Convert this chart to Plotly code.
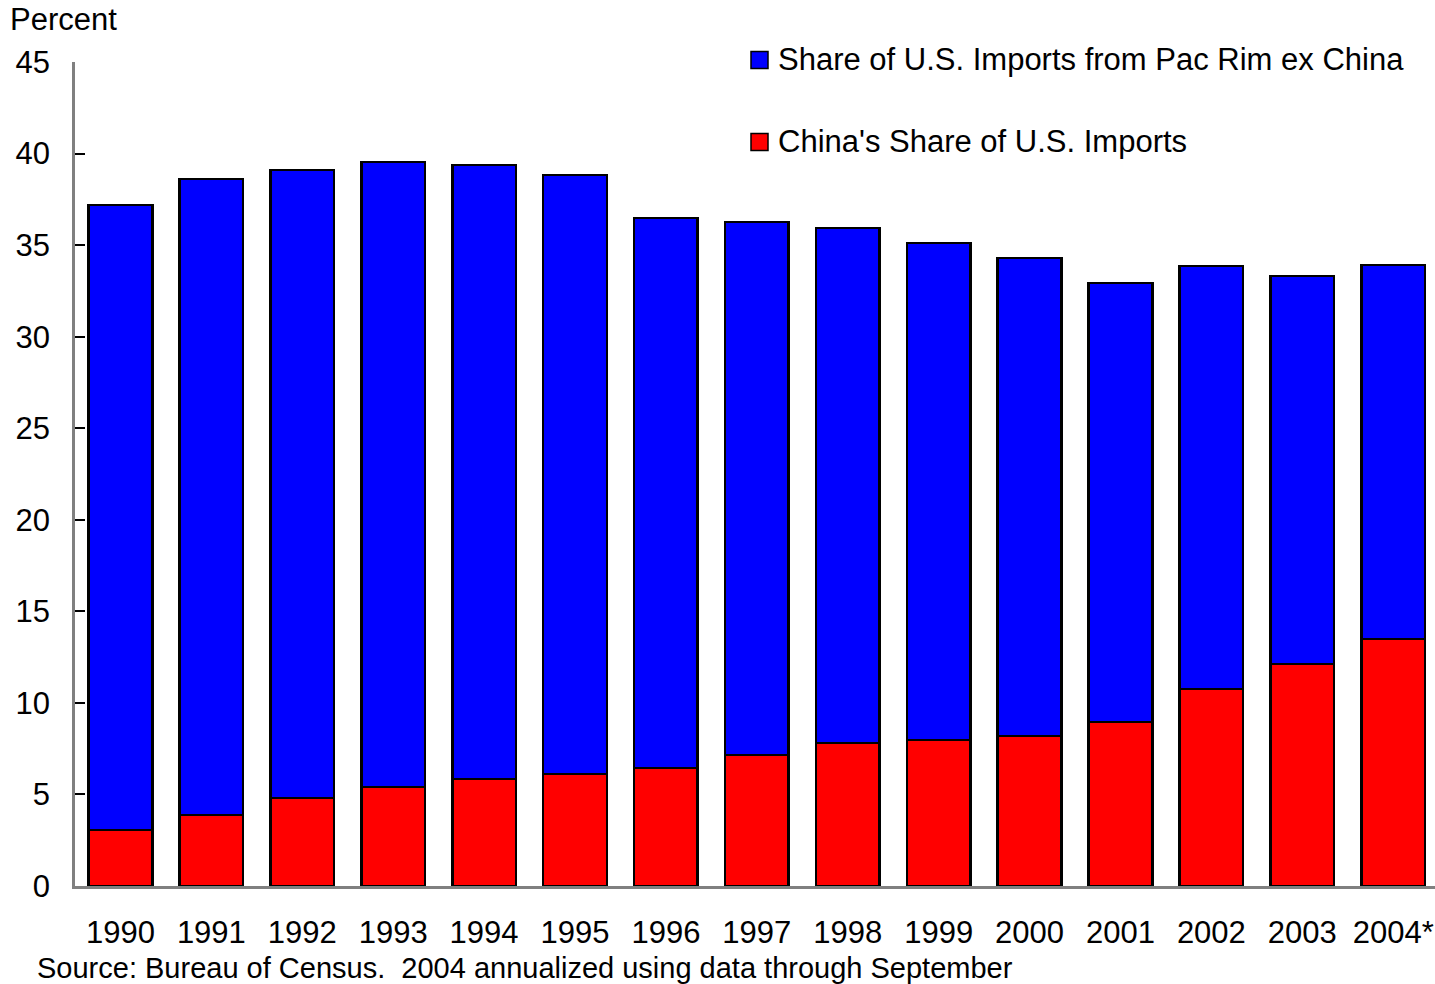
import plotly.graph_objects as go

years = ['1990', '1991', '1992', '1993', '1994', '1995', '1996', '1997',
         '1998', '1999', '2000', '2001', '2002', '2003', '2004*']
china = [3.06, 3.88, 4.81, 5.41, 5.84, 6.12, 6.44, 7.15,
         7.81, 7.97, 8.19, 8.96, 10.76, 12.12, 13.49]
total = [37.19, 38.61, 39.10, 39.54, 39.38, 38.83, 36.48, 36.26,
         35.94, 35.12, 34.30, 32.93, 33.86, 33.32, 33.92]
pacrim = [round(t - c, 2) for t, c in zip(total, china)]

font = 'Arial, Liberation Sans, sans-serif'

fig = go.Figure()
fig.add_trace(go.Bar(x=years, y=china, name="China's Share of U.S. Imports",
                     marker=dict(color='#ff0000', line=dict(color='black', width=2.5)),
                     showlegend=False))
fig.add_trace(go.Bar(x=years, y=pacrim, name='Share of U.S. Imports from Pac Rim ex China',
                     marker=dict(color='#0000ff', line=dict(color='black', width=2.5)),
                     showlegend=False))

fig.update_layout(
    barmode='stack', bargap=0.30,
    width=1435, height=984,
    margin=dict(l=75, r=0, t=62, b=98),
    plot_bgcolor='white', paper_bgcolor='white',
    font=dict(family=font, size=31, color='black'),
)
fig.update_xaxes(range=[-0.5, 14.46], showline=True, linecolor='#808080', linewidth=2.5,
                 ticks='', ticklabelstandoff=17, showgrid=False)
fig.update_yaxes(range=[0, 45], dtick=5, showline=True, linecolor='#808080', linewidth=2.5,
                 ticks='inside', ticklen=10, tickcolor='black', tickwidth=1.5,
                 ticklabelstandoff=16, showgrid=False, zeroline=False)

# legend drawn by hand so the swatches match the original size
legend = [('#0000ff', 'Share of U.S. Imports from Pac Rim ex China', 60),
          ('#ff0000', "China's Share of U.S. Imports", 142)]
for col, txt, ypx in legend:
    yc = 1 - (ypx - 62) / 824
    fig.add_shape(type='rect', xref='paper', yref='paper',
                  x0=(751 - 75) / 1360, x1=(768 - 75) / 1360,
                  y0=yc - 8.5 / 824, y1=yc + 8.5 / 824,
                  fillcolor=col, line=dict(color='black', width=1.5))
    fig.add_annotation(text=txt, xref='paper', yref='paper', x=(776 - 75) / 1360, y=yc,
                       xanchor='left', yanchor='middle', showarrow=False,
                       font=dict(size=31))

fig.add_annotation(text='Percent', xref='paper', yref='paper', x=-67 / 1360, y=1 + 42 / 824,
                   xanchor='left', yanchor='middle', showarrow=False, font=dict(size=31))
fig.add_annotation(text='Source: Bureau of Census.  2004 annualized using data through September',
                   xref='paper', yref='paper', x=-40 / 1360, y=-82 / 824,
                   xanchor='left', yanchor='middle', showarrow=False, font=dict(size=29))

fig.write_html('out.html', config={'displayModeBar': False},
               post_script="document.body.style.margin='0';")
